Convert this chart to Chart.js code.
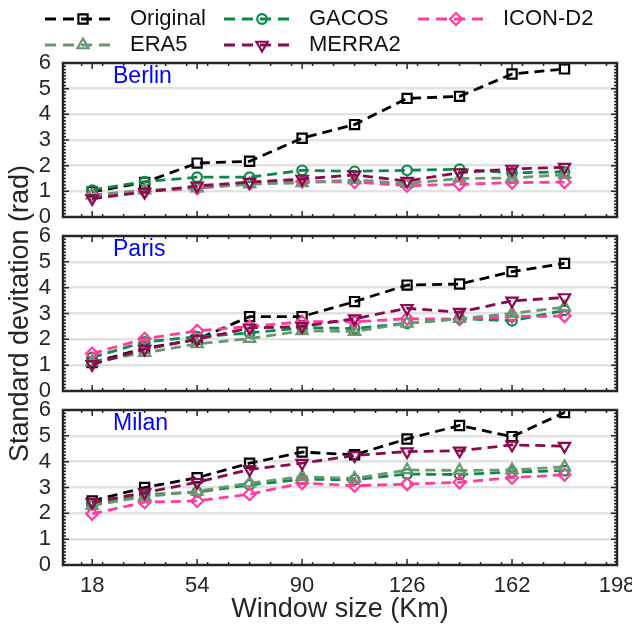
<!DOCTYPE html>
<html><head><meta charset="utf-8">
<script src="https://cdn.jsdelivr.net/npm/chart.js@4.4.1/dist/chart.umd.min.js"></script>
<style>
html,body{margin:0;padding:0;background:#fff;}
#wrap{position:relative;width:632px;height:630px;overflow:hidden;background:#fff;}
#wrap canvas{position:absolute;left:0;top:0;}
</style></head><body>
<div id="wrap">
<canvas id="c1" width="632" height="630"></canvas>
<canvas id="c2" width="632" height="630"></canvas>
<canvas id="c3" width="632" height="630"></canvas>
</div>
<script>
// ---------- data ----------
const windowSizes = [18, 36, 54, 72, 90, 108, 126, 144, 162, 180];
const xTickValues = [18, 54, 90, 126, 162, 198];
const yTickValues = [0, 1, 2, 3, 4, 5, 6];
const seriesNames = ['Original', 'GACOS', 'ICON-D2', 'ERA5', 'MERRA2'];
const cityNames = ['Berlin', 'Paris', 'Milan'];

const berlinOriginal = [0.98, 1.35, 2.10, 2.17, 3.07, 3.60, 4.62, 4.70, 5.57, 5.77];
const berlinGACOS    = [1.05, 1.38, 1.55, 1.55, 1.82, 1.78, 1.82, 1.86, 1.72, 1.76];
const berlinICON     = [0.85, 1.00, 1.12, 1.30, 1.38, 1.36, 1.22, 1.27, 1.34, 1.36];
const berlinERA5     = [0.85, 1.05, 1.12, 1.28, 1.33, 1.45, 1.30, 1.50, 1.52, 1.65];
const berlinMERRA2   = [0.72, 0.97, 1.21, 1.36, 1.48, 1.64, 1.40, 1.73, 1.87, 1.94];

const parisOriginal = [1.10, 1.65, 2.00, 2.88, 2.88, 3.46, 4.10, 4.14, 4.62, 4.94];
const parisGACOS    = [1.30, 1.90, 2.10, 2.25, 2.45, 2.42, 2.62, 2.80, 2.72, 3.12];
const parisICON     = [1.45, 2.02, 2.33, 2.50, 2.68, 2.68, 2.80, 2.78, 2.88, 2.90];
const parisERA5     = [1.12, 1.48, 1.82, 2.03, 2.33, 2.30, 2.62, 2.80, 3.00, 3.25];
const parisMERRA2   = [1.03, 1.62, 2.00, 2.44, 2.50, 2.80, 3.20, 3.05, 3.49, 3.62];

const milanOriginal = [2.48, 3.00, 3.38, 3.94, 4.37, 4.27, 4.88, 5.40, 4.97, 5.90];
const milanGACOS    = [2.35, 2.72, 2.82, 3.10, 3.32, 3.30, 3.52, 3.50, 3.60, 3.65];
const milanICON     = [1.98, 2.43, 2.48, 2.74, 3.17, 3.07, 3.13, 3.20, 3.38, 3.49];
const milanERA5     = [2.30, 2.65, 2.85, 3.17, 3.42, 3.35, 3.68, 3.66, 3.68, 3.80];
const milanMERRA2   = [2.43, 2.80, 3.20, 3.70, 3.94, 4.24, 4.39, 4.42, 4.65, 4.60];

// ---------- styles ----------
const FONT = '"Liberation Sans", Arial, Helvetica, sans-serif';
const AX = '#262626';
const seriesStyle = [
  {color: '#000000', style: 'rect',     radius: 6.5, rot: 0,   order: 5},
  {color: '#0a8a47', style: 'circle',   radius: 4.8, rot: 0,   order: 4},
  {color: '#ff3d9e', style: 'rectRot',  radius: 6,   rot: 0,   order: 3},
  {color: '#6b9770', style: 'triangle', radius: 6.5, rot: 0,   order: 2},
  {color: '#8b0a4f', style: 'triangle', radius: 6.5, rot: 180, order: 1}
];
const DASH = [10, 6];

Chart.defaults.font.family = FONT;
Chart.defaults.color = AX;

function makeDatasets(values) {
  return values.map((vals, i) => {
    const s = seriesStyle[i];
    return {
      label: seriesNames[i],
      data: windowSizes.map((x, k) => ({x: x, y: vals[k]})),
      borderColor: s.color,
      borderWidth: 2.8,
      borderDash: DASH,
      pointStyle: s.style,
      pointRadius: s.radius,
      pointRotation: s.rot,
      pointBorderWidth: 2.2,
      pointBorderColor: s.color,
      pointBackgroundColor: 'rgba(255,255,255,0)',
      fill: false,
      tension: 0,
      order: s.order
    };
  });
}

// marker drawing for the legend (same geometry as Chart.js point styles)
function drawMarker(ctx, s, x, y) {
  const r = s.radius;
  ctx.beginPath();
  if (s.style === 'circle') {
    ctx.arc(x, y, r, 0, Math.PI * 2);
  } else if (s.style === 'rect') {
    const h = Math.SQRT1_2 * r;
    ctx.rect(x - h, y - h, 2 * h, 2 * h);
  } else if (s.style === 'rectRot') {
    ctx.moveTo(x - r, y); ctx.lineTo(x, y - r); ctx.lineTo(x + r, y); ctx.lineTo(x, y + r); ctx.closePath();
  } else if (s.style === 'triangle') {
    let rad = s.rot * Math.PI / 180;
    ctx.moveTo(x + Math.sin(rad) * r, y - Math.cos(rad) * r);
    rad += 2 * Math.PI / 3;
    ctx.lineTo(x + Math.sin(rad) * r, y - Math.cos(rad) * r);
    rad += 2 * Math.PI / 3;
    ctx.lineTo(x + Math.sin(rad) * r, y - Math.cos(rad) * r);
    ctx.closePath();
  }
  ctx.stroke();
}

const framePlugin = {
  id: 'frame',
  afterDatasetsDraw(chart, args, opts) {
    const {ctx, chartArea: {left, right, top, bottom}, scales: {x, y}} = chart;
    ctx.save();
    ctx.strokeStyle = AX;
    ctx.lineWidth = 1.5;
    ctx.beginPath();
    const vt = (px, len) => { ctx.moveTo(px, bottom); ctx.lineTo(px, bottom - len); ctx.moveTo(px, top); ctx.lineTo(px, top + len); };
    const ht = (py, len) => { ctx.moveTo(left, py); ctx.lineTo(left + len, py); ctx.moveTo(right, py); ctx.lineTo(right - len, py); };
    xTickValues.forEach(v => vt(x.getPixelForValue(v), 6));
    for (let v = 14.4; v < 198; v += 7.2) {
      if (xTickValues.some(t => Math.abs(t - v) < 1)) continue;
      vt(x.getPixelForValue(v), 3);
    }
    yTickValues.forEach(v => ht(y.getPixelForValue(v), 6));
    for (let v = 0.125; v < 6; v += 0.125) ht(y.getPixelForValue(v), 3);
    ctx.stroke();
    ctx.lineWidth = 2.5;
    ctx.strokeRect(left, top, right - left, bottom - top);
    // city label
    ctx.fillStyle = '#0000ff';
    ctx.font = '23px ' + FONT;
    ctx.textBaseline = 'middle';
    ctx.textAlign = 'left';
    ctx.fillText(opts.city, left + 50, top + 14);
    ctx.restore();
  }
};

const legendPlugin = {
  id: 'topLegend',
  afterDraw(chart, args, opts) {
    if (!opts.show) return;
    const ctx = chart.ctx;
    const cols = [45, 224, 418];
    const rows = [19, 45];
    ctx.save();
    chart.data.datasets.forEach((ds, i) => {
      const s = seriesStyle[i];
      const col = cols[i % 3], row = rows[Math.floor(i / 3)];
      ctx.strokeStyle = s.color;
      ctx.lineWidth = 2.8;
      ctx.setLineDash([11, 7]);
      ctx.beginPath();
      ctx.moveTo(col, row); ctx.lineTo(col + 72, row);
      ctx.stroke();
      ctx.setLineDash([]);
      ctx.lineWidth = 2.2;
      drawMarker(ctx, s, col + 38, row);
      ctx.fillStyle = '#111';
      ctx.font = '22px ' + FONT;
      ctx.textBaseline = 'middle';
      ctx.textAlign = 'left';
      ctx.fillText(ds.label, col + 85, row);
    });
    ctx.restore();
  }
};

function makeChart(id, city, values, cfg) {
  const xScale = {
    type: 'linear', min: 8, max: 198,
    display: cfg.showX,
    grid: {display: false, drawTicks: false},
    border: {display: false},
    afterBuildTicks: s => { s.ticks = xTickValues.map(v => ({value: v})); },
    ticks: {font: {size: 22}, color: AX, padding: 8, maxRotation: 0, autoSkip: false},
    title: {display: cfg.showX, text: 'Window size (Km)', font: {size: 27}, color: AX, padding: {top: 0, bottom: 4}},
    afterFit: s => { if (cfg.showX) s.height = 65; s.paddingLeft = 0; s.paddingRight = 0; }
  };
  const yScale = {
    type: 'linear', min: 0, max: 6,
    afterBuildTicks: s => { s.ticks = yTickValues.map(v => ({value: v})); },
    grid: {
      drawTicks: false,
      lineWidth: 2.5,
      color: c => (c.tick && (c.tick.value === 0 || c.tick.value === 6)) ? 'rgba(0,0,0,0)' : '#e2e2e2'
    },
    border: {display: false},
    ticks: {font: {size: 22}, color: AX, padding: 12, autoSkip: false},
    title: {display: cfg.showYTitle, text: 'Standard devitation (rad)', font: {size: 27}, color: AX, padding: {top: 4, bottom: 0}},
    afterFit: s => { s.width = 63; s.paddingTop = 0; s.paddingBottom = 0; }
  };
  return new Chart(document.getElementById(id), {
    type: 'line',
    data: {datasets: makeDatasets(values)},
    options: {
      responsive: false,
      animation: false,
      devicePixelRatio: 1,
      layout: {padding: {top: cfg.top, bottom: cfg.bottom, left: 0, right: 15}},
      scales: {x: xScale, y: yScale},
      plugins: {
        legend: {display: false},
        tooltip: {enabled: false},
        frame: {city: city},
        topLegend: {show: !!cfg.legend}
      }
    },
    plugins: [framePlugin, legendPlugin]
  });
}

makeChart('c1', cityNames[0], [berlinOriginal, berlinGACOS, berlinICON, berlinERA5, berlinMERRA2],
  {top: 63, bottom: 630 - 217, showX: false, showYTitle: false, legend: true});
makeChart('c2', cityNames[1], [parisOriginal, parisGACOS, parisICON, parisERA5, parisMERRA2],
  {top: 236, bottom: 630 - 391, showX: false, showYTitle: true});
makeChart('c3', cityNames[2], [milanOriginal, milanGACOS, milanICON, milanERA5, milanMERRA2],
  {top: 410, bottom: 0, showX: true, showYTitle: false});
</script>
</body></html>
